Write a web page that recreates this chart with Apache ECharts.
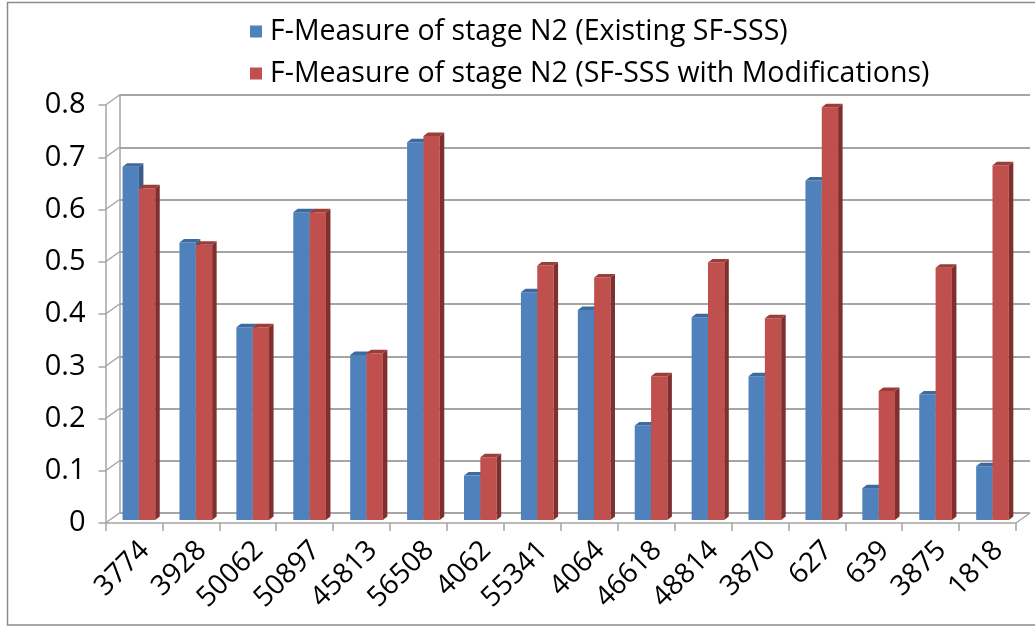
<!DOCTYPE html>
<html>
<head>
<meta charset="utf-8">
<script src="https://cdn.jsdelivr.net/npm/echarts@6/dist/echarts.min.js"></script>
<style>
  html, body { margin: 0; padding: 0; background: #ffffff; }
  #chart { width: 1035px; height: 628px; }
</style>
</head>
<body>
<div id="chart"></div>
<script>
// Data sets (F-measure per recording)
const categories = ['3774', '3928', '50062', '50897', '45813', '56508', '4062', '55341',
                    '4064', '46618', '48814', '3870', '627', '639', '3875', '1818'];
const existingSF = [0.676, 0.531, 0.369, 0.589, 0.316, 0.723, 0.085, 0.436,
                    0.402, 0.181, 0.388, 0.275, 0.650, 0.061, 0.240, 0.103];
const modifiedSF = [0.635, 0.527, 0.369, 0.589, 0.319, 0.735, 0.120, 0.487,
                    0.464, 0.275, 0.493, 0.386, 0.790, 0.247, 0.483, 0.679];
const seriesNames = ['F-Measure of stage N2 (Existing SF-SSS)',
                     'F-Measure of stage N2 (SF-SSS with Modifications)'];
const yTicks = [0, 0.1, 0.2, 0.3, 0.4, 0.5, 0.6, 0.7, 0.8];

// Layout / style constants
const FONT = '"Open Sans", Lato, sans-serif';
const GRID_COLOR = '#a5a5a5';
const WALL = [14, -10];              // depth offset of the back wall
const FRONT = { left: 105.5, top: 105, right: 19, bottom: 105 };
const BACK = {
  left: FRONT.left + WALL[0], top: FRONT.top + WALL[1],
  right: FRONT.right - WALL[0], bottom: FRONT.bottom - WALL[1]
};
const palette = [
  { front: '#4F81BD', side: '#385D8A', top: '#3F6A9E' },
  { front: '#C0504D', side: '#7F2F2D', top: '#9C3D3A' }
];

// 3D column drawn through the axis scales
function makeColumnRenderer(slot) {
  return function (params, api) {
    const i = api.value(0), v = api.value(1);
    const base = api.coord([i, 0]);
    const tip = api.coord([i, v]);
    const band = api.size([1, 0])[0];
    const w = band * 0.287;
    const x0 = base[0] - band / 2 + band * 0.30 + slot * w;
    const yb = base[1] - 3, yt = tip[1] - 3;
    const dx = 4.5, dy = -3.5;
    const c = palette[slot];
    return {
      type: 'group',
      children: [
        { type: 'rect', shape: { x: x0, y: yt, width: w, height: yb - yt }, style: { fill: c.front } },
        { type: 'polygon', shape: { points: [[x0 + w, yt], [x0 + w + dx, yt + dy], [x0 + w + dx, yb + dy], [x0 + w, yb]] }, style: { fill: c.side } },
        { type: 'polygon', shape: { points: [[x0, yt], [x0 + dx, yt + dy], [x0 + w + dx, yt + dy], [x0 + w, yt]] }, style: { fill: c.top } }
      ]
    };
  };
}

// Side-wall and floor diagonals joining the front axis to the back wall
function renderWallEdges(params, api) {
  const cs = params.coordSys;
  const y = api.coord([0, api.value(1)])[1];
  const children = [{
    type: 'line',
    shape: { x1: cs.x, y1: y, x2: cs.x + WALL[0], y2: y + WALL[1] },
    style: { stroke: GRID_COLOR, lineWidth: 1.5 }
  }];
  if (params.dataIndex === 0) {
    const xr = cs.x + cs.width;
    children.push({
      type: 'line',
      shape: { x1: xr, y1: y, x2: xr + WALL[0], y2: y + WALL[1] },
      style: { stroke: GRID_COLOR, lineWidth: 1.5 }
    });
  }
  return { type: 'group', children: children };
}

// Slanted category names under the floor edge
function renderCategoryLabel(params, api) {
  const i = api.value(0);
  const p = api.coord([i, 0]);
  return {
    type: 'text',
    x: p[0] + 11, y: p[1] + 23,
    rotation: Math.PI / 4,
    style: {
      text: categories[i],
      font: '28px ' + FONT,
      fill: '#000000',
      align: 'right',
      verticalAlign: 'middle'
    }
  };
}

const chart = echarts.init(document.getElementById('chart'), null, { renderer: 'canvas' });

chart.setOption({
  backgroundColor: '#ffffff',
  animation: false,
  textStyle: { fontFamily: FONT },
  graphic: [{
    type: 'rect',
    shape: { x: 7.5, y: 2.5, width: 1040, height: 622.5 },
    style: { fill: 'none', stroke: '#8c8c8c', lineWidth: 1.5 },
    silent: true, z: -10
  }],
  legend: {
    orient: 'vertical',
    left: 250, top: 17, padding: 0,
    itemWidth: 12, itemHeight: 12, itemGap: 13,
    icon: 'rect',
    data: seriesNames,
    textStyle: { fontFamily: FONT, fontSize: 28.5, lineHeight: 28, color: '#000000', padding: [0, 0, 0, 3] }
  },
  grid: [
    Object.assign({ containLabel: false }, FRONT),
    Object.assign({ containLabel: false }, BACK)
  ],
  xAxis: [{
    type: 'category', gridIndex: 0, data: categories, boundaryGap: true,
    axisLine: { show: true, lineStyle: { color: GRID_COLOR, width: 1.5 } },
    axisTick: { show: true, length: 8, lineStyle: { color: GRID_COLOR, width: 1.5 } },
    axisLabel: { show: false },
    splitLine: { show: false }
  }, {
    type: 'category', gridIndex: 1, data: categories, boundaryGap: true,
    axisLine: { show: false }, axisTick: { show: false }, axisLabel: { show: false },
    splitLine: { show: false }
  }],
  yAxis: [{
    type: 'value', gridIndex: 0, min: 0, max: 0.8, interval: 0.1,
    axisLine: { show: true, lineStyle: { color: GRID_COLOR, width: 1.5 } },
    axisTick: { show: true, length: 7, lineStyle: { color: GRID_COLOR, width: 1.5 } },
    axisLabel: { margin: 20, fontSize: 29, color: '#000000', fontFamily: FONT,
                 formatter: v => String(Math.round(v * 10) / 10) },
    splitLine: { show: false }
  }, {
    type: 'value', gridIndex: 1, min: 0, max: 0.8, interval: 0.1,
    axisLine: { show: true, lineStyle: { color: GRID_COLOR, width: 1.5 } },
    axisTick: { show: false }, axisLabel: { show: false },
    splitLine: { show: true, lineStyle: { color: GRID_COLOR, width: 2 } }
  }],
  series: [{
    type: 'custom', name: 'wall-edges', xAxisIndex: 0, yAxisIndex: 0,
    renderItem: renderWallEdges, silent: true, z: 1,
    data: yTicks.map(t => [0, t])
  }, {
    type: 'custom', name: 'category-labels', xAxisIndex: 0, yAxisIndex: 0,
    renderItem: renderCategoryLabel, silent: true, z: 2, clip: false,
    data: categories.map((c, i) => [i, 0])
  }, {
    type: 'custom', name: seriesNames[0], xAxisIndex: 0, yAxisIndex: 0,
    itemStyle: { color: palette[0].front }, z: 3,
    renderItem: makeColumnRenderer(0),
    encode: { x: 0, y: 1 },
    data: existingSF.map((v, i) => [i, v])
  }, {
    type: 'custom', name: seriesNames[1], xAxisIndex: 0, yAxisIndex: 0,
    itemStyle: { color: palette[1].front }, z: 4,
    renderItem: makeColumnRenderer(1),
    encode: { x: 0, y: 1 },
    data: modifiedSF.map((v, i) => [i, v])
  }]
});
</script>
</body>
</html>
